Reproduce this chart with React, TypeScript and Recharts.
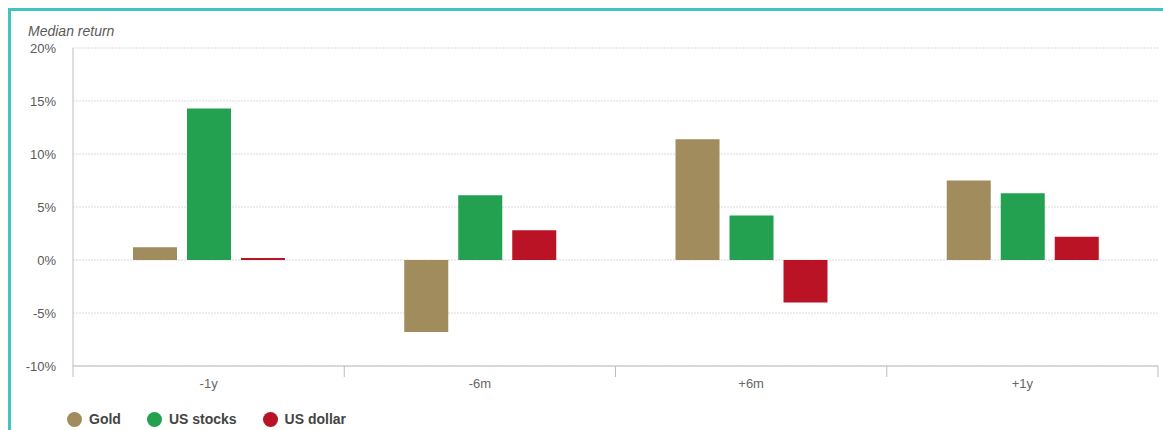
import React from "react";
import { BarChart, Bar, XAxis, YAxis, CartesianGrid, Legend } from "recharts";

const periods = ["-1y", "-6m", "+6m", "+1y"];
const gold = [1.2, -6.8, 11.4, 7.5];
const usStocks = [14.3, 6.1, 4.2, 6.3];
const usDollar = [0.2, 2.8, -4.0, 2.2];
const yTicks = [-10, -5, 0, 5, 10, 15, 20];

const series = [
  { key: "gold", name: "Gold", color: "#a08c5c" },
  { key: "usStocks", name: "US stocks", color: "#24a150" },
  { key: "usDollar", name: "US dollar", color: "#bb1326" },
];

const data = periods.map((p, i) => ({
  period: p,
  gold: gold[i],
  usStocks: usStocks[i],
  usDollar: usDollar[i],
}));

const FONT = "'Liberation Sans', Arial, sans-serif";
const AXIS = "#bdbdbd";

function PeriodTick(props: any) {
  const { x, y, payload, index, visibleTicksCount } = props;
  const half = payload?.offset ?? 135.6;
  const last = index === (visibleTicksCount ?? periods.length) - 1;
  return (
    <g>
      <line x1={x - half} x2={x - half} y1={y} y2={y + 11} stroke={AXIS} />
      {last && <line x1={x + half} x2={x + half} y1={y} y2={y + 11} stroke={AXIS} />}
      <text x={x} y={y + 22} textAnchor="middle" fontSize={13} fill="#666" fontFamily={FONT}>
        {payload.value}
      </text>
    </g>
  );
}

function LegendContent() {
  return (
    <div style={{ display: "flex", gap: 26, fontFamily: FONT, fontSize: 14, fontWeight: 700, color: "#444" }}>
      {series.map((s) => (
        <div key={s.key} style={{ display: "flex", alignItems: "center", gap: 7 }}>
          <span style={{ width: 15, height: 15, borderRadius: "50%", background: s.color, display: "inline-block" }} />
          <span>{s.name}</span>
        </div>
      ))}
    </div>
  );
}

export default function App() {
  return (
    <div style={{ position: "absolute", left: 0, top: 0, width: 1163, height: 430, overflow: "hidden", background: "#fff" }}>
      <div
        style={{
          position: "absolute",
          left: 8,
          top: 8,
          width: 1200,
          height: 500,
          border: "3px solid #3fc4bf",
        }}
      />
      <div
        style={{
          position: "absolute",
          left: 28,
          top: 23,
          fontFamily: FONT,
          fontStyle: "italic",
          fontSize: 14,
          color: "#595959",
        }}
      >
        Median return
      </div>
      <div style={{ position: "absolute", left: 0, top: 0 }}>
        <BarChart
          width={1163}
          height={430}
          data={data}
          margin={{ top: 48, right: 5, left: 0, bottom: 34 }}
          barSize={44}
          barGap={10}
        >
          <CartesianGrid vertical={false} stroke="#d9d9d9" strokeDasharray="2 1" />
          <XAxis
            dataKey="period"
            height={30}
            axisLine={{ stroke: AXIS }}
            tickLine={false}
            tickSize={0}
            tickMargin={0}
            tick={<PeriodTick />}
            interval={0}
          />
          <YAxis
            width={73}
            domain={[-10, 20]}
            ticks={yTicks}
            tickFormatter={(v) => `${v}%`}
            axisLine={{ stroke: AXIS }}
            tickLine={false}
            tickSize={6}
            tickMargin={11}
            tick={{ fontSize: 13, fill: "#595959", fontFamily: FONT }}
          />
          <YAxis yAxisId="right" orientation="right" width={0} tick={false} tickLine={false} axisLine={{ stroke: AXIS }} />
          <Legend
            layout="horizontal"
            verticalAlign="middle"
            align="center"
            content={<LegendContent />}
            wrapperStyle={{ left: 67, top: 411, width: 400, height: 18 }}
          />
          {series.map((s) => (
            <Bar key={s.key} dataKey={s.key} name={s.name} fill={s.color} isAnimationActive={false} />
          ))}
        </BarChart>
      </div>
    </div>
  );
}
